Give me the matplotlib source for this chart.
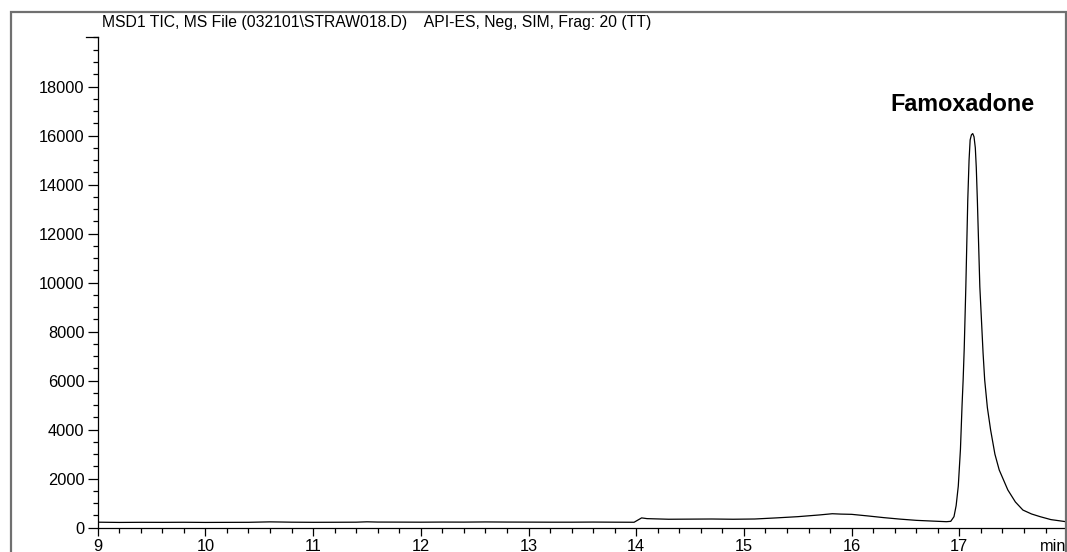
import matplotlib
matplotlib.use('Agg')
import matplotlib.pyplot as plt
from matplotlib.patches import Rectangle
from matplotlib.ticker import MultipleLocator

plt.rcParams['font.family'] = ['Liberation Sans', 'DejaVu Sans']

# retention time (min) and TIC abundance
rt = [9.0, 9.2, 9.4, 9.6, 9.8, 10.0, 10.2, 10.4, 10.6, 10.7, 10.8, 11.0, 11.2, 11.4,
      11.5, 11.6, 11.8, 12.0, 12.2, 12.4, 12.6, 12.8, 13.0, 13.2, 13.4, 13.6, 13.8,
      13.98, 14.05, 14.1, 14.3, 14.5, 14.7, 14.9, 15.1, 15.3, 15.5, 15.7, 15.82, 15.9,
      16.0, 16.15, 16.3, 16.45, 16.6, 16.75, 16.88, 16.92, 16.95, 16.97, 16.99, 17.01,
      17.025, 17.035, 17.045, 17.06, 17.078, 17.09, 17.10, 17.112, 17.124, 17.136,
      17.148, 17.157, 17.167, 17.19, 17.22, 17.235, 17.26, 17.29, 17.33, 17.37, 17.45,
      17.52, 17.59, 17.67, 17.75, 17.85, 17.99]
tic = [225, 215, 220, 218, 222, 215, 218, 220, 238, 232, 225, 220, 222, 225,
       240, 230, 228, 225, 230, 228, 235, 230, 228, 225, 225, 230, 225,
       222, 400, 370, 345, 350, 355, 345, 355, 400, 450, 520, 570, 555,
       545, 480, 410, 350, 300, 270, 245, 260, 450, 900, 1700, 3200,
       5000, 6030, 7300, 9830, 13370, 15000, 15820, 16030, 16080, 15950,
       15500, 14700, 13370, 9830, 7130, 6030, 4900, 3990, 3000, 2355, 1540,
       1050, 720, 560, 450, 330, 245]

xticks = [9, 10, 11, 12, 13, 14, 15, 16, 17]
yticks = [0, 2000, 4000, 6000, 8000, 10000, 12000, 14000, 16000, 18000]
title = 'MSD1 TIC, MS File (032101\\STRAW018.D)    API-ES, Neg, SIM, Frag: 20 (TT)'
peak_name = 'Famoxadone'

fig = plt.figure(figsize=(10.67, 5.52), dpi=100)
ax = fig.add_axes([97.7 / 1067, 1 - 527.7 / 552, (1066 - 97.7) / 1067, (527.7 - 37.5) / 552])

ax.plot(rt, tic, color='black', lw=0.9)
ax.set_xlim(9, 17.99)
ax.set_ylim(0, 20000)

for s in ['top', 'right']:
    ax.spines[s].set_visible(False)
for s in ['left', 'bottom']:
    ax.spines[s].set_linewidth(0.9)

ax.set_xticks(xticks)
ax.set_yticks(yticks)
ax.xaxis.set_minor_locator(MultipleLocator(0.2))
ax.yaxis.set_minor_locator(MultipleLocator(500))
ax.tick_params(axis='y', which='major', length=7.5, width=0.9, labelsize=11.8, pad=2)
ax.tick_params(axis='y', which='minor', length=3.5, width=0.9)
ax.tick_params(axis='x', which='major', length=6, width=0.9, labelsize=11.8, pad=2)
ax.tick_params(axis='x', which='minor', length=3.5, width=0.9)

# tick at the very top of the y axis
ax.plot([0, -0.012], [20000, 20000], transform=ax.get_yaxis_transform(),
        color='black', lw=0.9, clip_on=False)

ax.text(17.03, 17000, peak_name, ha='center', va='baseline',
        fontsize=16.8, fontweight='bold')
ax.annotate('min', xy=(1.0, 0), xycoords='axes fraction', xytext=(0, -8),
            textcoords='offset points', ha='right', va='top', fontsize=11.8)

fig.text(102 / 1067, 1 - 26.7 / 552, title, ha='left', va='baseline', fontsize=11.3)

# outer frame of the report page
fig.patches.append(Rectangle((11 / 1067, -0.1), (1066 - 11) / 1067, 1.1 - 11.5 / 552,
                             transform=fig.transFigure, fill=False,
                             edgecolor='#707070', lw=1.6))

fig.savefig('out.png', dpi=100, facecolor='white')
